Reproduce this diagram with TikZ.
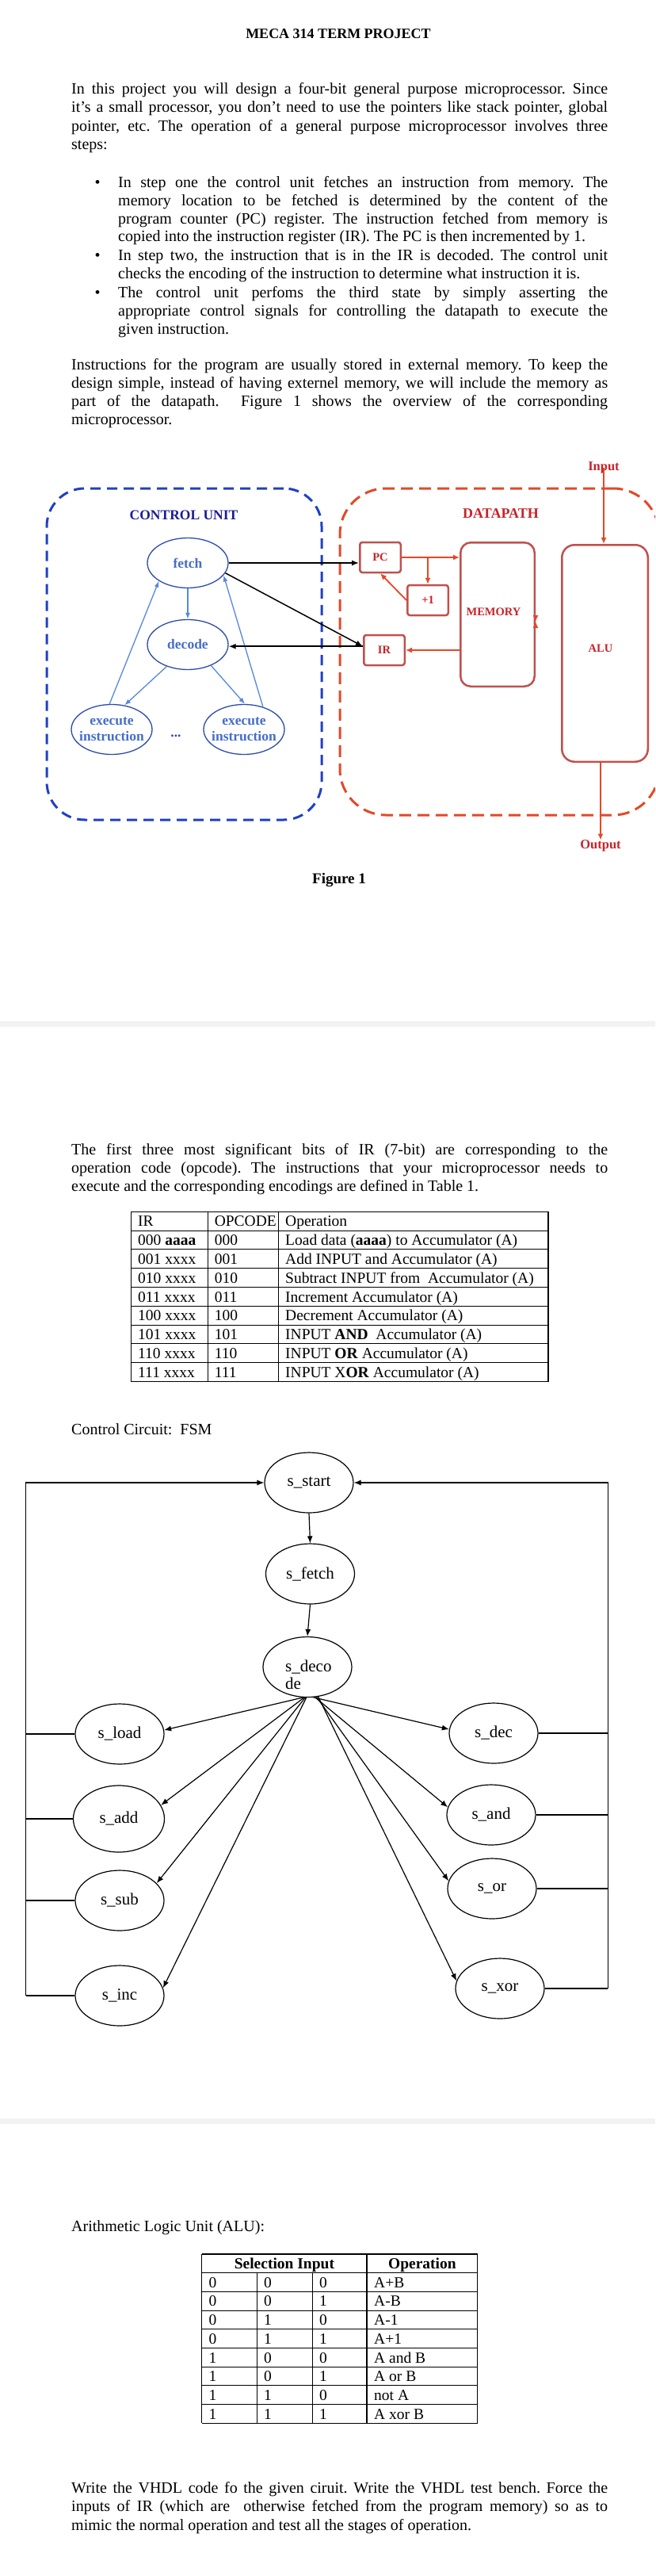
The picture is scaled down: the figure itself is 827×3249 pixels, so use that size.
\documentclass[tikz,border=0pt]{standalone}
\usepackage{fontspec}
\setmainfont{Liberation Serif}
\usetikzlibrary{shapes.geometric,arrows.meta,calc}
\definecolor{cublue}{RGB}{32,64,196}
\definecolor{cutext}{RGB}{28,28,150}
\definecolor{elline}{RGB}{45,75,170}
\definecolor{eltext}{RGB}{70,110,200}
\definecolor{elarrow}{RGB}{85,135,225}
\definecolor{dpred}{RGB}{228,72,40}
\definecolor{dptext}{RGB}{200,35,40}
\definecolor{boxred}{RGB}{192,80,77}
\definecolor{redarr}{RGB}{230,70,40}
\definecolor{bandgray}{RGB}{242,242,242}
\newcommand{\bodyfnt}{\fontsize{20}{23}\selectfont\frenchspacing}
\newcommand{\cellfnt}{\fontsize{19.5}{22}\selectfont\frenchspacing}
\begin{document}
\frenchspacing
\begin{tikzpicture}[x=1pt,y=-1pt,
 txt/.style={inner sep=0pt,anchor=base west,font=\bodyfnt},
 cell/.style={inner sep=0pt,anchor=base west,font=\cellfnt},
 tline/.style={line width=1.1pt},
 cudash/.style={draw=cublue,line width=3pt,dash pattern=on 13pt off 8pt,rounded corners=48pt,inner sep=0pt},
 dpdash/.style={draw=dpred,line width=3pt,dash pattern=on 15pt off 8pt,rounded corners=58pt,inner sep=0pt},
 cuell/.style={ellipse,draw=elline,line width=1.3pt,minimum width=102pt,minimum height=63pt,inner sep=0pt,text=eltext,font=\bfseries\fontsize{17.5}{20}\selectfont,align=center},
 dpbox/.style={draw=boxred,line width=2.5pt,rounded corners=3pt,inner sep=0pt,text=dptext,font=\bfseries\fontsize{14.5}{17}\selectfont},
 blk/.style={draw=black,line width=1.5pt,-{Latex[length=9pt,width=7pt]}},
 blu/.style={draw=elarrow,line width=1.3pt,-{Latex[length=8pt,width=6pt]}},
 rda/.style={draw=redarr,line width=1.8pt,-{Latex[length=8pt,width=7pt]}},
 fsm/.style={ellipse,draw,line width=1.2pt,minimum width=112pt,minimum height=76pt,inner sep=0pt,font=\fontsize{21}{22}\selectfont},
 fsmarr/.style={line width=1.2pt,-{Latex[length=9pt,width=7pt]}},
 fsmline/.style={line width=1.2pt}
]
\useasboundingbox (0,0) rectangle (827,3249);
\clip (0,0) rectangle (827,3249);
\fill[white] (0,0) rectangle (827,3249);
% page bands
\fill[bandgray] (0,1288) rectangle (827,1295);
\fill[bandgray] (0,2672) rectangle (827,2679);

% title
\node[inner sep=0pt,anchor=base,font=\bfseries\fontsize{18}{20}\selectfont] (title) at (427,49) {MECA 314 TERM PROJECT};

% paragraph 1
\node[txt] (p1a) at (90,119) {\makebox[677pt][s]{In this project you will design a four-bit general purpose microprocessor. Since}};
\node[txt] (p1b) at (90,142) {\makebox[677pt][s]{it’s a small processor, you don’t need to use the pointers like stack pointer, global}};
\node[txt] (p1c) at (90,165) {\makebox[677pt][s]{pointer, etc. The operation of a general purpose microprocessor involves three}};
\node[txt] (p1d) at (90,188) {steps:};

% bullets
\node[inner sep=0pt,anchor=base,font=\bodyfnt] (dot1) at (123,236) {\textbullet};
\node[txt] (b1a) at (149,236) {\makebox[618pt][s]{In step one the control unit fetches an instruction from memory. The}};
\node[txt] (b1b) at (149,259) {\makebox[618pt][s]{memory location to be fetched is determined by the content of the}};
\node[txt] (b1c) at (149,282) {\makebox[618pt][s]{program counter (PC) register. The instruction fetched from memory is}};
\node[txt] (b1d) at (149,304.5) {copied into the instruction register (IR). The PC is then incremented by 1.};
\node[inner sep=0pt,anchor=base,font=\bodyfnt] (dot2) at (123,328) {\textbullet};
\node[txt] (b2a) at (149,328) {\makebox[618pt][s]{In step two, the instruction that is in the IR is decoded. The control unit}};
\node[txt] (b2b) at (149,351) {checks the encoding of the instruction to determine what instruction it is.};
\node[inner sep=0pt,anchor=base,font=\bodyfnt] (dot3) at (123,375) {\textbullet};
\node[txt] (b3a) at (149,375) {\makebox[618pt][s]{The control unit perfoms the third state by simply asserting the}};
\node[txt] (b3b) at (149,398) {\makebox[618pt][s]{appropriate control signals for controlling the datapath to execute the}};
\node[txt] (b3c) at (149,421) {given instruction.};

% paragraph 3
\node[txt] (p3a) at (90,466.5) {\makebox[677pt][s]{Instructions for the program are usually stored in external memory. To keep the}};
\node[txt] (p3b) at (90,489.5) {\makebox[677pt][s]{design simple, instead of having externel memory, we will include the memory as}};
\node[txt] (p3c) at (90,512.5) {\makebox[677pt][s]{part of the datapath.\ \ Figure 1 shows the overview of the corresponding}};
\node[txt] (p3d) at (90,535.5) {microprocessor.};

% ---------- Figure 1 ----------
\node[cudash,minimum width=347pt,minimum height=418pt] (cubox) at (232.5,825) {};
\node[dpdash,minimum width=403pt,minimum height=412pt] (dpbox) at (630.5,822) {};
\node[inner sep=0pt,text=cutext,font=\bfseries\fontsize{17.5}{20}\selectfont] (cutitle) at (232,650) {CONTROL UNIT};
\node[inner sep=0pt,text=dptext,font=\bfseries\fontsize{18}{20}\selectfont] (dptitle) at (632,648) {DATAPATH};

\node[cuell] (fetch) at (237,710) {fetch};
\node[cuell] (decode) at (237,813) {decode};
\node[cuell] (execL) at (141,920) {\makebox[0pt]{execute}\\\makebox[0pt]{instruction}};
\node[cuell] (execR) at (308,920) {\makebox[0pt]{execute}\\\makebox[0pt]{instruction}};
\node[inner sep=0pt,text=elline,font=\bfseries\fontsize{17.5}{20}\selectfont] (dots) at (222,928) {...};

\node[dpbox,minimum width=51.5pt,minimum height=38pt] (pc) at (480,703) {PC};
\node[dpbox,minimum width=51.5pt,minimum height=38pt] (plus1) at (540,757) {+1};
\node[dpbox,minimum width=51.5pt,minimum height=38pt] (ir) at (485,820) {IR};
\node[dpbox,rounded corners=13pt,minimum width=93.5pt,minimum height=181.5pt] (mem) at (628,775) {};
\node[inner sep=0pt,text=dptext,font=\bfseries\fontsize{14.5}{17}\selectfont] (memtxt) at (623,772) {MEMORY};
\node[dpbox,rounded corners=16pt,minimum width=108.5pt,minimum height=273.5pt] (alu) at (763.5,824) {};
\node[inner sep=0pt,text=dptext,font=\bfseries\fontsize{14.5}{17}\selectfont] (alutxt) at (758,818) {ALU};

\node[inner sep=0pt,text=dptext,font=\bfseries\fontsize{16.5}{18}\selectfont] (inlbl) at (762,590) {Input};
\node[inner sep=0pt,text=dptext,font=\bfseries\fontsize{16.5}{18}\selectfont] (outlbl) at (758,1067) {Output};
\node[inner sep=0pt,font=\bfseries\fontsize{19}{21}\selectfont] (fig1) at (428,1110) {Figure 1};

% blue arrows
\draw[blu] (fetch.south) -- (decode.north);
\draw[blu] (decode.226) -- (execL.62);
\draw[blu] (decode.318) -- (execR.88);
\draw[blu] (execL.95) -- (fetch.212);
\draw[blu] (execR.50) -- (fetch.341);
% black arrows
\draw[blk] (fetch.east) -- (fetch.east -| pc.west);
\draw[blk] (fetch.345) -- (ir.170);
\draw[blk] (ir.170) -- (ir.170 -| decode.east);
% red arrows
\draw[rda] (inlbl.center) -- (inlbl.center |- alu.north);
\draw[rda] (alutxt |- alu.south) -- (alutxt |- outlbl.north);
\draw[rda] (pc.east) -- (pc.east -| mem.west);
\draw[rda] (pc.east -| plus1.north) -- (plus1.north);
\draw[rda] (plus1.west) -- (pc.south);
\draw[rda] (mem.west |- ir.east) -- (ir.east);
\draw[draw=redarr,line width=1.8pt,{Latex[length=8pt,width=7pt]}-{Latex[length=8pt,width=7pt]}] ($(mem.east)+(0,9)$) -- ($(mem.east)+(0,9)$ -| alu.west);

% ---------- Table intro ----------
\node[txt] (p4a) at (90,1456) {\makebox[677pt][s]{The first three most significant bits of IR (7-bit) are corresponding to the}};
\node[txt] (p4b) at (90,1479) {\makebox[677pt][s]{operation code (opcode). The instructions that your microprocessor needs to}};
\node[txt] (p4c) at (90,1502) {execute and the corresponding encodings are defined in Table 1.};

% Table 1
\foreach \k in {0,...,9}{
  \draw[tline] (165.6,{1528.3+23.8*\k}) -- (692,{1528.3+23.8*\k});
}
\foreach \xx in {165.6,262.1,351.8,692}{
  \draw[tline] (\xx,1528.3) -- (\xx,1742.5);
}
\foreach \r/\ca/\cb/\cc in {
  0/{IR}/{OPCODE}/{Operation},
  1/{000 \textbf{aaaa}}/{000}/{Load data (\textbf{aaaa}) to Accumulator (A)},
  2/{001 xxxx}/{001}/{Add INPUT and Accumulator (A)},
  3/{010 xxxx}/{010}/{Subtract INPUT from\ \ Accumulator (A)},
  4/{011 xxxx}/{011}/{Increment Accumulator (A)},
  5/{100 xxxx}/{100}/{Decrement Accumulator (A)},
  6/{101 xxxx}/{101}/{INPUT \textbf{AND}\ \ Accumulator (A)},
  7/{110 xxxx}/{110}/{INPUT \textbf{OR} Accumulator (A)},
  8/{111 xxxx}/{111}/{INPUT X\textbf{OR} Accumulator (A)}}{
  \node[cell] (tA\r) at (174,{1528.3+23.8*\r+18.5}) {\ca};
  \node[cell] (tB\r) at (270.6,{1528.3+23.8*\r+18.5}) {\cb};
  \node[cell] (tC\r) at (360,{1528.3+23.8*\r+18.5}) {\cc};
}

% ---------- FSM ----------
\node[txt] (fsmtitle) at (90,1809) {Control Circuit:\ \ FSM};
\node[fsm] (sstart) at (390,1870) {s\_start};
\node[fsm] (sfetch) at (391.5,1985) {s\_fetch};
\node[fsm] (sdecode) at (388,2102.5) {};
\node[inner sep=0pt,anchor=base west,font=\fontsize{21}{22}\selectfont] (sdecta) at (360,2108) {s\_deco};
\node[inner sep=0pt,anchor=base west,font=\fontsize{21}{22}\selectfont] (sdectb) at (360,2130.5) {de};
\node[fsm] (sload) at (151,2187) {s\_load};
\node[fsm,minimum width=115pt,minimum height=84pt] (sadd) at (150,2294) {s\_add};
\node[fsm] (ssub) at (151,2397) {s\_sub};
\node[fsm] (sinc) at (151,2517) {s\_inc};
\node[fsm] (sdec) at (623,2186) {s\_dec};
\node[fsm] (sand) at (620,2289) {s\_and};
\node[fsm] (sor) at (621,2382) {s\_or};
\node[fsm] (sxor) at (631,2508) {s\_xor};
\coordinate (LT) at (32.7,1870);
\coordinate (RT) at (767.4,1870);

\draw[fsmarr] (sstart.south) -- (sfetch.north);
\draw[fsmarr] (sfetch.south) -- (sdecode.north);
\draw[fsmarr] (sinc.west -| LT) -- (LT) -- (sstart.west);
\draw[fsmarr] (sxor.east -| RT) -- (RT) -- (sstart.east);
\draw[fsmline] (sload.west) -- (sload.west -| LT);
\draw[fsmline] (sadd.west) -- (sadd.west -| LT);
\draw[fsmline] (ssub.west) -- (ssub.west -| LT);
\draw[fsmline] (sinc.west) -- (sinc.west -| LT);
\draw[fsmline] (sdec.east) -- (sdec.east -| RT);
\draw[fsmline] (sand.east) -- (sand.east -| RT);
\draw[fsmline] (sor.east) -- (sor.east -| RT);
\draw[fsmline] (sxor.east) -- (sxor.east -| RT);
\draw[fsmarr] (sdecode.262) -- (sload.5);
\draw[fsmarr] (sdecode.264) -- (sadd.18);
\draw[fsmarr] (sdecode.266) -- (ssub.25);
\draw[fsmarr] (sdecode.268) -- (sinc.10);
\draw[fsmarr] (sdecode.281) -- (sdec.175);
\draw[fsmarr] (sdecode.284) -- (sand.170);
\draw[fsmarr] (sdecode.287) -- (sor.170);
\draw[fsmarr] (sdecode.290) -- (sxor.170);

% ---------- ALU ----------
\node[txt] (alutitle) at (90,2814) {Arithmetic Logic Unit (ALU):};
\foreach \k in {0,...,9}{
  \draw[tline] (254.7,{2843+23.7*\k}) -- (602.8,{2843+23.7*\k});
}
\foreach \xx in {254.7,463,602.8}{
  \draw[tline] (\xx,2843) -- (\xx,3056.3);
}
\foreach \xx in {324.4,394.5}{
  \draw[tline] (\xx,2866.7) -- (\xx,3056.3);
}
\node[inner sep=0pt,anchor=base,font=\bfseries\cellfnt] (selhdr) at (358.9,2861.5) {Selection Input};
\node[inner sep=0pt,anchor=base,font=\bfseries\cellfnt] (ophdr) at (532.9,2861.5) {Operation};
\foreach \r/\sa/\sb/\sc/\op in {1/0/0/0/{A+B},2/0/0/1/{A-B},3/0/1/0/{A-1},4/0/1/1/{A+1},5/1/0/0/{A and B},6/1/0/1/{A or B},7/1/1/0/{not A},8/1/1/1/{A xor B}}{
  \node[cell] (sa\r) at (263.5,{2843+23.7*\r+18.5}) {\sa};
  \node[cell] (sb\r) at (333,{2843+23.7*\r+18.5}) {\sb};
  \node[cell] (sc\r) at (403,{2843+23.7*\r+18.5}) {\sc};
  \node[cell] (op\r) at (472,{2843+23.7*\r+18.5}) {\op};
}

% final paragraph
\node[txt] (p5a) at (90,3144) {\makebox[677pt][s]{Write the VHDL code fo the given ciruit. Write the VHDL test bench. Force the}};
\node[txt] (p5b) at (90,3167.5) {\makebox[677pt][s]{inputs of IR (which are\ \ otherwise fetched from the program memory) so as to}};
\node[txt] (p5c) at (90,3191) {mimic the normal operation and test all the stages of operation.};
\end{tikzpicture}
\end{document}
